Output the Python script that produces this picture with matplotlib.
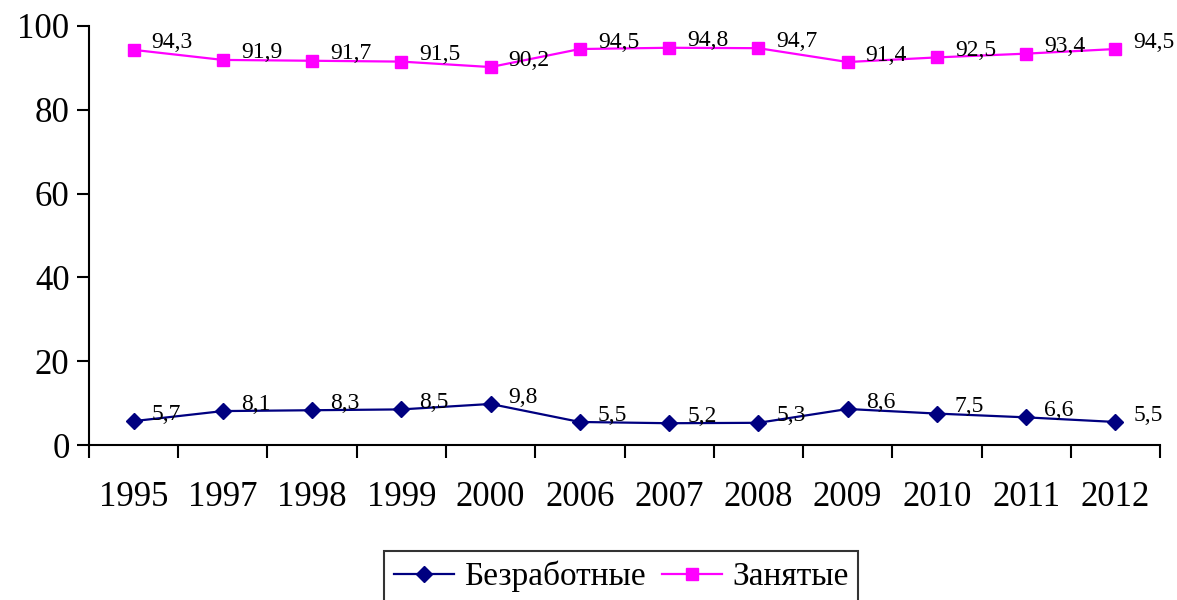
import matplotlib.pyplot as plt

# Data
years = ['1995', '1997', '1998', '1999', '2000', '2006', '2007', '2008', '2009', '2010', '2011', '2012']
unemployed = [5.7, 8.1, 8.3, 8.5, 9.8, 5.5, 5.2, 5.3, 8.6, 7.5, 6.6, 5.5]
employed = [94.3, 91.9, 91.7, 91.5, 90.2, 94.5, 94.8, 94.7, 91.4, 92.5, 93.4, 94.5]

plt.rcParams['font.family'] = ['Liberation Serif', 'DejaVu Serif']

fig = plt.figure(figsize=(11.77, 6), dpi=100)
ax = fig.add_axes([0.0756, 0.2583, 0.91, 0.6984])

x = list(range(len(years)))
ax.plot(x, unemployed, color='#000080', marker='D', markersize=8.5, linewidth=1.6, label='Безработные')
ax.plot(x, employed, color='#FF00FF', marker='s', markersize=8.5, linewidth=1.6, label='Занятые')

# Data labels
for series in (unemployed, employed):
    for xi, v in zip(x, series):
        ax.annotate(f'{v}'.replace('.', ','), (xi, v), xytext=(13, 5), textcoords='offset points',
                    ha='left', va='center', fontsize=17)

ax.set_xlim(-0.5, len(years) - 0.5)
ax.set_ylim(0, 100)
ax.set_yticks([0, 20, 40, 60, 80, 100])

# Category axis: ticks between categories, labels centered
ax.set_xticks([i - 0.5 for i in range(len(years) + 1)])
ax.set_xticklabels([])
ax.set_xticks(x, minor=True)
ax.set_xticklabels(years, minor=True, fontsize=25)
ax.tick_params(axis='x', which='minor', length=0, pad=26)
ax.tick_params(axis='x', which='major', length=9, width=1.5, direction='out')
ax.tick_params(axis='y', length=9, width=1.5, direction='out', labelsize=25, pad=5)

ax.spines['top'].set_visible(False)
ax.spines['right'].set_visible(False)
ax.spines['left'].set_linewidth(1.5)
ax.spines['bottom'].set_linewidth(1.5)

leg = fig.legend(loc='upper center', bbox_to_anchor=(0.5276, 0.0817), ncol=2, fontsize=24,
                 frameon=True, fancybox=False, edgecolor='black', handlelength=1.8,
                 handletextpad=0.3, columnspacing=0.5, borderpad=0.3, borderaxespad=0)
leg.get_frame().set_linewidth(1.5)

fig.savefig('out.png', dpi=100)
